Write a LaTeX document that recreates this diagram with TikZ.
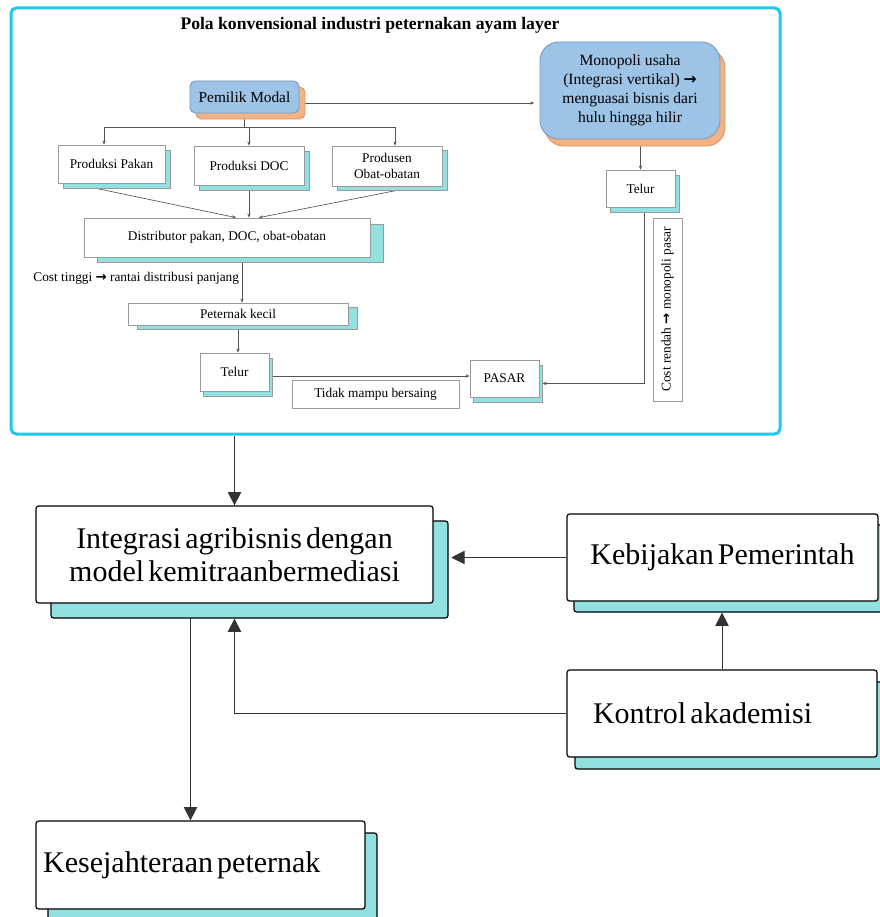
\documentclass[tikz,border=0pt]{standalone}
\usepackage{fontspec}
\setmainfont{Liberation Serif}
\newfontfamily\bigfont{Liberation Serif}[WordSpace=0.55]
\newfontfamily\symf{DejaVu Sans}
\usetikzlibrary{arrows.meta,calc}
\pgfdeclarelayer{back}
\pgfdeclarelayer{links}
\pgfsetlayers{back,links,main}
\definecolor{frameC}{HTML}{22C7EE}
\definecolor{shC}{HTML}{92E1E1}
\definecolor{bluC}{HTML}{9DC3E6}
\definecolor{bluB}{HTML}{7A9CC0}
\definecolor{orC}{HTML}{F4B183}
\definecolor{orB}{HTML}{D9976B}
\definecolor{lnC}{HTML}{555555}
\definecolor{bxB}{HTML}{9A9A9A}
\newcommand\rarw{{\symf\bfseries\char"2192}}
\begin{document}
\begin{tikzpicture}[x=0.75pt,y=-0.75pt,
  sz/.style 2 args={minimum width=#1*0.75pt, minimum height=#2*0.75pt},
  smallbox/.style={draw=bxB, fill=white, line width=0.6pt, inner sep=0pt, font=\fontsize{10}{12}\selectfont, align=center},
  smallsh/.style={draw=bxB, fill=shC, line width=0.6pt, inner sep=0pt},
  bluebox/.style={draw=bluB, fill=bluC, line width=0.7pt, inner sep=0pt, align=center},
  orsh/.style={draw=orB, fill=orC, line width=0.7pt, inner sep=0pt},
  bigbox/.style={draw=black, fill=white, line width=0.9pt, rounded corners=2pt, inner sep=0pt, font=\bigfont\fontsize{22.5}{25}\selectfont},
  bigsh/.style={draw=black, fill=shC, line width=0.9pt, rounded corners=2pt, inner sep=0pt},
  sm/.style={draw=lnC, line width=0.5pt, -{Stealth[length=3pt,width=2.5pt]}},
  ln/.style={draw=lnC, line width=0.5pt},
  bigarr/.style={draw=black!80, line width=0.7pt, -{Triangle[length=10pt,width=10pt]}},
  bigln/.style={draw=black!80, line width=0.7pt}
]
\begin{pgfonlayer}{back}
\fill[white] (0,0) rectangle (879,917);
\end{pgfonlayer}
\path[use as bounding box] (0,0) rectangle (879,917);

% frame and title
\node[draw=frameC, line width=2.25pt, rounded corners=4pt, inner sep=0pt, sz={769}{426}] (frame) at (395.5,221) {};
\node[font=\fontsize{13.2}{15}\selectfont\bfseries, inner sep=0pt] (title) at (370,25) {Pola konvensional industri peternakan ayam layer};

% Pemilik Modal
\node[orsh, rounded corners=4pt, sz={109}{32}] (pemS) at (250.5,103) {};
\node[bluebox, rounded corners=4pt, sz={109}{32}, font=\fontsize{11.5}{13}\selectfont] (pem) at (244.5,97) {Pemilik Modal};

% Monopoli
\node[orsh, rounded corners=14pt, sz={180}{97}] (monS) at (635,97.5) {};
\node[bluebox, rounded corners=14pt, sz={180}{97}, font=\fontsize{11.7}{14.3}\selectfont] (mon) at (630,90.5) {Monopoli usaha\\(Integrasi vertikal) \rarw\\menguasai bisnis dari\\hulu hingga hilir};

% producers
\node[smallsh, sz={107}{38}] (pakanS) at (116.5,169) {};
\node[smallbox, sz={107}{38}] (pakan) at (111.5,164) {Produksi Pakan};
\node[smallsh, sz={110}{39}] (docS) at (254,170.5) {};
\node[smallbox, sz={110}{39}] (doc) at (249,165.5) {Produksi DOC};
\node[smallsh, sz={110}{40}] (prodS) at (392,170) {};
\node[smallbox, sz={110}{40}] (prod) at (387,166) {Produsen\\Obat-obatan};

% distributor
\node[smallsh, sz={286}{38}] (distS) at (240,243) {};
\node[smallbox, sz={286}{39}] (dist) at (227,237.5) {Distributor pakan, DOC, obat-obatan};

% peternak kecil
\node[smallsh, sz={220}{22}] (petS) at (247,318) {};
\node[smallbox, sz={220}{22}] (pet) at (238,314) {Peternak kecil};

% Telur 1
\node[smallsh, sz={69}{38}] (tel1S) at (237.5,377) {};
\node[smallbox, sz={69}{38}] (tel1) at (234.5,372) {Telur};

% Tidak mampu bersaing
\node[smallbox, sz={167}{28}] (tidak) at (375.5,394) {Tidak mampu bersaing};

% PASAR
\node[smallsh, sz={69}{37}] (pasS) at (507.5,383.5) {};
\node[smallbox, sz={69}{37}] (pas) at (504.5,378.5) {PASAR};

% Telur 2
\node[smallsh, sz={69}{37}] (tel2S) at (644.5,193.5) {};
\node[smallbox, sz={69}{37}] (tel2) at (640.5,188.5) {Telur};

% Cost rendah
\node[smallbox, rotate=90, sz={183}{29}] (costr) at (667.5,309.5) {Cost rendah \rarw\ monopoli pasar};

% big boxes
\node[bigsh, sz={397}{97}] (intS) at (249.5,569.5) {};
\node[bigbox, sz={397}{97}, align=center] (int) at (234.5,554.5) {Integrasi agribisnis dengan\\model kemitraanbermediasi};

\node[bigsh, sz={311}{87}] (kebS) at (729.5,568.5) {};
\node[bigbox, sz={311}{87}, align=center] (keb) at (722.5,557.5) {Kebijakan Pemerintah};

\node[bigsh, sz={310}{87}] (konS) at (730,725.5) {};
\node[bigbox, sz={310}{87}, align=left, text width=193.5pt] (kon) at (722,713.5) {\spaceskip=0pt\relax Kontrol akademisi};

\node[bigsh, sz={329}{88}] (kesS) at (212.5,877) {};
\node[bigbox, sz={329}{88}, align=left, text width=236pt] (kes) at (200.5,865) {\spaceskip=0pt\relax Kesejahteraan peternak};

% connectors
\begin{pgfonlayer}{links}
\draw[sm, shorten >=4pt] (pemS.east) -- (mon.west |- pemS.east);
\coordinate (busL) at (104,127);
\coordinate (busR) at (395,127);
\draw[ln] (pem.south) -- (pem.south |- busL);
\draw[ln] (busL) -- (busR);
\draw[sm] (busL) -- (busL |- pakan.north);
\draw[sm] (doc.north |- busL) -- (doc.north);
\draw[sm] (busR) -- (busR |- prod.north);
\draw[sm] ($(pakan.south)+(-20,4)$) -- ($(dist.north)+(9,0)$);
\draw[sm] (doc.south) -- (doc.south |- dist.north);
\draw[sm] ($(prod.south)+(20,2)$) -- ($(dist.north)+(32,0)$);
\draw[sm] ($(dist.south -| pet.north)+(4,0)$) -- node[left, inner sep=2pt, font=\fontsize{10}{12}\selectfont, yshift=1pt] (costt) {Cost tinggi \rarw\ rantai distribusi panjang} ($(pet.north)+(4,0)$);
\draw[sm] (pet.south) -- (pet.south |- tel1.north);
\draw[sm] ($(tel1.east |- pas.west)+(0,-2.5)$) -- ($(pas.west)+(0,-2.5)$);
\draw[sm] (tel2.north |- mon.south) -- (tel2.north);
\draw[sm] (tel2S.south) |- (pasS.east);

\draw[bigarr] (int.north |- frame.south) -- (int.north);
\draw[bigarr, shorten >=2pt] (keb.west) -- (keb.west -| intS.east);
\draw[bigarr] (kon.north) -- (kon.north |- kebS.south);
\draw[bigarr] (kon.west) -| (int.south |- intS.south);
\draw[bigarr] ([xshift=-33pt]int.south) -- ([xshift=-33pt]int.south |- kes.north);
\end{pgfonlayer}
\end{tikzpicture}
\end{document}
